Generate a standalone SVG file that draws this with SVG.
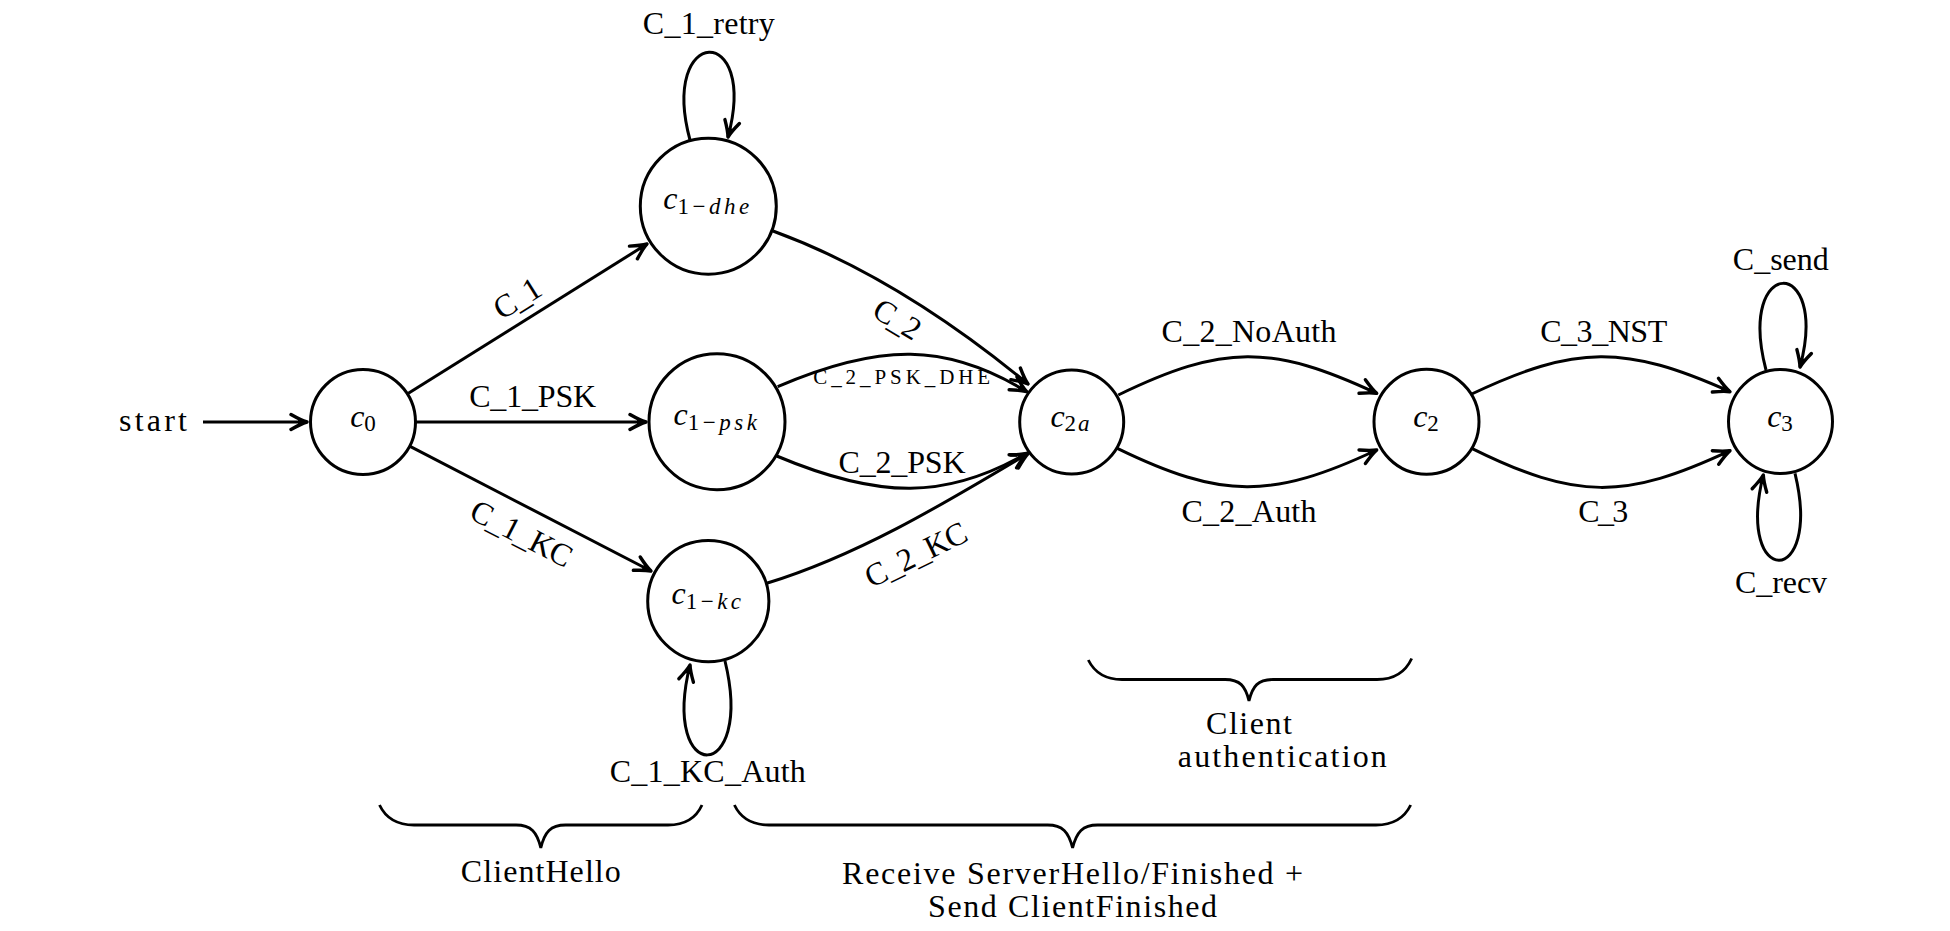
<svg xmlns="http://www.w3.org/2000/svg" width="1950" height="931" viewBox="0 0 1950 931">
<style>
text{font-family:"Liberation Serif","Times New Roman",serif;font-size:32px;fill:#000}
.node circle{fill:#fff;stroke:#000;stroke-width:3}
.mi{font-style:italic}
.sub{font-size:23px}
.subl{font-size:23px;letter-spacing:3.5px}
.edge{fill:none;stroke:#000;stroke-width:3;marker-end:url(#ah)}
.brace{fill:none;stroke:#000;stroke-width:2.8}
.small{font-size:21px}
</style>
<defs>
<marker id="ah" viewBox="-20 -11 22 22" refX="0" refY="0" markerWidth="22" markerHeight="22" orient="auto" markerUnits="userSpaceOnUse">
<path d="M-16,-7.5 Q-6,-1.8 0,0 Q-6,1.8 -16,7.5" fill="none" stroke="#000" stroke-width="3.4" stroke-linecap="round" stroke-linejoin="round"/>
<path d="M-9,-2.6 L0,0 L-9,2.6 Z" fill="#000"/>
</marker>
</defs>
<rect x="0" y="0" width="1950" height="931" fill="#fff"/>

<g id="connectors">
<path class="edge" d="M203,422 L307,422"/>
<path class="edge" d="M408,393.5 L647,244"/>
<path class="edge" d="M416,422 L646,422"/>
<path class="edge" d="M409.6,446.2 L651,571"/>
<path class="edge" d="M690,140 C659,25 759,22 728,137"/>
<path class="edge" d="M725,661 C755,785 660,786 690,665"/>
<path class="edge" d="M773,231 C866,265 951.6,321 1028,384"/>
<path class="edge" d="M777.7,386.7 C880,342.7 946.7,342.7 1026.7,391.7"/>
<path class="edge" d="M776.7,456 C880,499.5 946.7,499.5 1026.7,453.3"/>
<path class="edge" d="M766.7,583.3 C859.5,554.9 945,503 1028.3,453.3"/>
<path class="edge" d="M1118.3,395 C1223,344.2 1271.7,344.2 1376.7,393.3"/>
<path class="edge" d="M1117.3,448.3 C1222,499.2 1271.7,499.2 1376.7,450"/>
<path class="edge" d="M1471.7,394 C1576,344.7 1625,344.7 1730,391.7"/>
<path class="edge" d="M1471.7,448.3 C1576,500 1625,500 1730,450.7"/>
<path class="edge" d="M1766,370 C1736,255 1830,255 1800,367"/>
<path class="edge" d="M1795,473.3 C1823,589 1735,589 1763.3,475"/>
</g>

<g id="edge-labels">
<text x="153" y="431" text-anchor="middle" textLength="68" lengthAdjust="spacing">start</text>
<text x="517" y="309" text-anchor="middle" transform="rotate(-32 517 298)" textLength="50" lengthAdjust="spacing">C_1</text>
<text x="532.7" y="407.3" text-anchor="middle" textLength="127" lengthAdjust="spacing">C_1_PSK</text>
<text x="521.7" y="544.3" text-anchor="middle" transform="rotate(27.3 521.7 533.3)" textLength="110" lengthAdjust="spacing">C_1_KC</text>
<text x="708.8" y="34.3" text-anchor="middle" textLength="132" lengthAdjust="spacing">C_1_retry</text>
<text x="707.8" y="782" text-anchor="middle" textLength="196" lengthAdjust="spacing">C_1_KC_Auth</text>
<text x="897.5" y="330" text-anchor="middle" transform="rotate(31 897.5 319)" textLength="50" lengthAdjust="spacing">C_2</text>
<text class="small" x="901.7" y="384.3" text-anchor="middle" textLength="177" lengthAdjust="spacing">C_2_PSK_DHE</text>
<text x="902" y="473.3" text-anchor="middle" textLength="127" lengthAdjust="spacing">C_2_PSK</text>
<text x="915.8" y="565.2" text-anchor="middle" transform="rotate(-26 915.8 554.2)" textLength="110" lengthAdjust="spacing">C_2_KC</text>
<text x="1249" y="341.7" text-anchor="middle" textLength="175" lengthAdjust="spacing">C_2_NoAuth</text>
<text x="1249" y="521.7" text-anchor="middle" textLength="135" lengthAdjust="spacing">C_2_Auth</text>
<text x="1603.7" y="341.7" text-anchor="middle" textLength="127" lengthAdjust="spacing">C_3_NST</text>
<text x="1603.3" y="521.7" text-anchor="middle" textLength="50" lengthAdjust="spacing">C_3</text>
<text x="1780.8" y="270" text-anchor="middle" textLength="96" lengthAdjust="spacing">C_send</text>
<text x="1781" y="593.3" text-anchor="middle" textLength="92" lengthAdjust="spacing">C_recv</text>
</g>

<g id="c0" class="node">
<circle cx="363" cy="422" r="52.5"/>
<text x="363" y="426.5" text-anchor="middle"><tspan class="mi">c</tspan><tspan class="sub" dy="4">0</tspan></text>
</g>
<g id="c1-dhe" class="node">
<circle cx="708.3" cy="206.2" r="68"/>
<text x="708" y="209" text-anchor="middle"><tspan class="mi">c</tspan><tspan class="subl" dy="5">1−<tspan class="mi">dhe</tspan></tspan></text>
</g>
<g id="c1-psk" class="node">
<circle cx="717" cy="421.7" r="68"/>
<text x="717" y="425" text-anchor="middle"><tspan class="mi">c</tspan><tspan class="subl" dy="5">1−<tspan class="mi">psk</tspan></tspan></text>
</g>
<g id="c1-kc" class="node">
<circle cx="708.3" cy="601.2" r="60.6"/>
<text x="708" y="604" text-anchor="middle"><tspan class="mi">c</tspan><tspan class="subl" dy="5">1−<tspan class="mi">kc</tspan></tspan></text>
</g>
<g id="c2a" class="node">
<circle cx="1071.7" cy="422" r="52"/>
<text x="1071" y="426.5" text-anchor="middle"><tspan class="mi">c</tspan><tspan class="sub" dy="4" letter-spacing="2">2<tspan class="mi">a</tspan></tspan></text>
</g>
<g id="c2" class="node">
<circle cx="1426.5" cy="421.7" r="52.5"/>
<text x="1426" y="426.5" text-anchor="middle"><tspan class="mi">c</tspan><tspan class="sub" dy="4">2</tspan></text>
</g>
<g id="c3" class="node">
<circle cx="1780.5" cy="421.5" r="52"/>
<text x="1780" y="426.5" text-anchor="middle"><tspan class="mi">c</tspan><tspan class="sub" dy="4">3</tspan></text>
</g>

<g id="brace-clienthello">
<path class="brace" d="M379.5,805 Q389,825 414,825 L516,825 C531,825 537,832 540.8,848 C544.6,832 550.6,825 565.6,825 L668,825 Q693,825 702,805"/>
<text x="540.8" y="882" text-anchor="middle" textLength="160" lengthAdjust="spacing">ClientHello</text>
</g>
<g id="brace-receive">
<path class="brace" d="M734.4,805 Q744,825 769,825 L1047.6,825 C1062.6,825 1068.6,832 1072.6,848 C1076.6,832 1082.6,825 1097.6,825 L1376,825 Q1401,825 1410.7,805"/>
<text x="1072.6" y="884" text-anchor="middle" textLength="461" lengthAdjust="spacing">Receive ServerHello/Finished +</text>
<text x="1072.6" y="917" text-anchor="middle" textLength="289" lengthAdjust="spacing">Send ClientFinished</text>
</g>
<g id="brace-client-auth">
<path class="brace" d="M1088.3,660 Q1098,679.5 1122,679.5 L1225,679.5 C1240,679.5 1245.5,686 1249,701 C1252.5,686 1258,679.5 1273,679.5 L1377,679.5 Q1402,679.5 1411.7,658.5"/>
<text x="1249" y="734" text-anchor="middle" textLength="86" lengthAdjust="spacing">Client</text>
<text x="1282.3" y="767" text-anchor="middle" textLength="209" lengthAdjust="spacing">authentication</text>
</g>
</svg>
